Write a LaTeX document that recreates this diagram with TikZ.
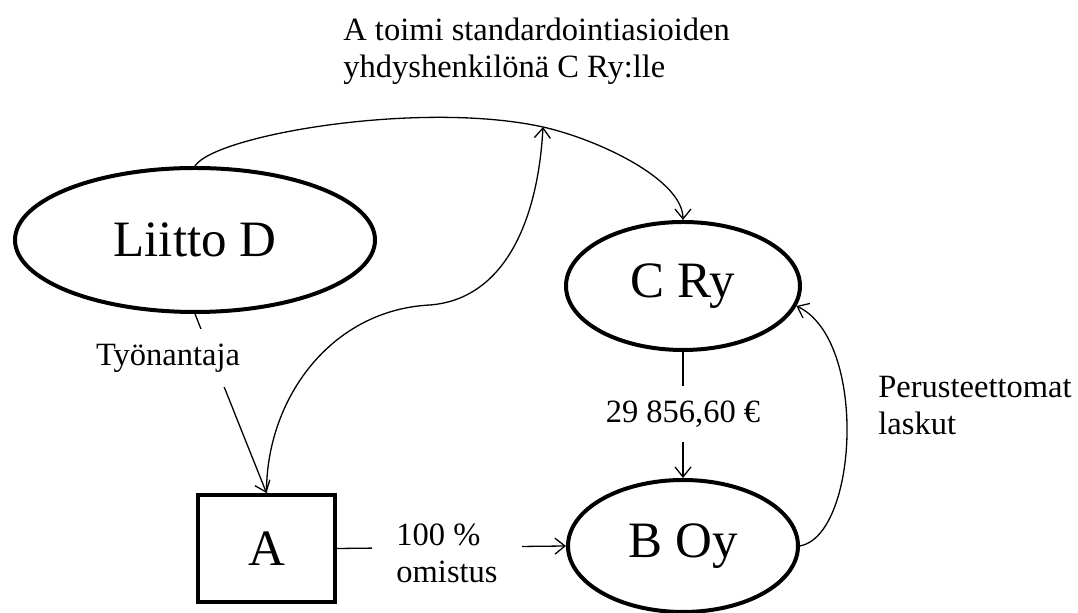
\documentclass[tikz,border=0pt]{standalone}
\usepackage{fontspec}
\setmainfont{Liberation Serif}
\usetikzlibrary{shapes.geometric,arrows.meta}
\begin{document}
\begin{tikzpicture}[x=0.5pt,y=-0.5pt,
  big/.style={font=\fontsize{25.5}{30}\selectfont},
  ent/.style={ellipse,draw,line width=2pt,big,inner sep=0pt},
  lbl/.style={fill=white,font=\fontsize{16.25}{18.5}\selectfont,inner xsep=12pt,inner ysep=7.5pt},
  txt/.style={font=\fontsize{16.25}{18.5}\selectfont,align=left,inner sep=0pt},
  conn/.style={line width=0.65pt,-{Straight Barb[length=5pt,width=8pt]}},
]
\useasboundingbox (0,0) rectangle (1078,613);
\node[ent,minimum width=180pt,minimum height=72pt] (liitto) at (195,240) {Liitto D};
\node[ent,minimum width=117pt,minimum height=64pt] (cry) at (683,286) {C Ry};
\node[ent,minimum width=115pt,minimum height=66pt] (boy) at (683,546) {B Oy};
\node[draw,line width=2pt,big,minimum width=68.5pt,minimum height=53.5pt] (A) at (266.5,548.5) {A};
\coordinate (top) at (543,127);
\coordinate (bend) at (430,305);

\draw[conn] (liitto.north) .. controls (215,135) and (420,100) .. (top) .. controls (600,140) and (683,180) .. (cry.north);
\draw[conn] (A.north) .. controls (266,400) and (330,310) .. (bend) .. controls (505,299) and (538,220) .. (top);
\draw[conn] (liitto.south) -- (A.north);
\node[lbl] (tyo) at (168,358) {Työnantaja};
\draw[conn] (cry.south) -- (boy.north);
\node[lbl] (sum) at (683,414) {29 856,60 €};
\draw[conn] (A.east) -- (boy.west);
\node[lbl,align=left] (own) at (447,553) {100 \%\\omistus};
\draw[conn] (boy.east) .. controls (858,535) and (868,340) .. (cry.-10);
\node[txt,anchor=west] (per) at (878,406) {Perusteettomat\\laskut};
\node[txt,anchor=west] (title) at (343,51) {A toimi standardointiasioiden\\yhdyshenkilönä C Ry:lle};
\end{tikzpicture}
\end{document}
